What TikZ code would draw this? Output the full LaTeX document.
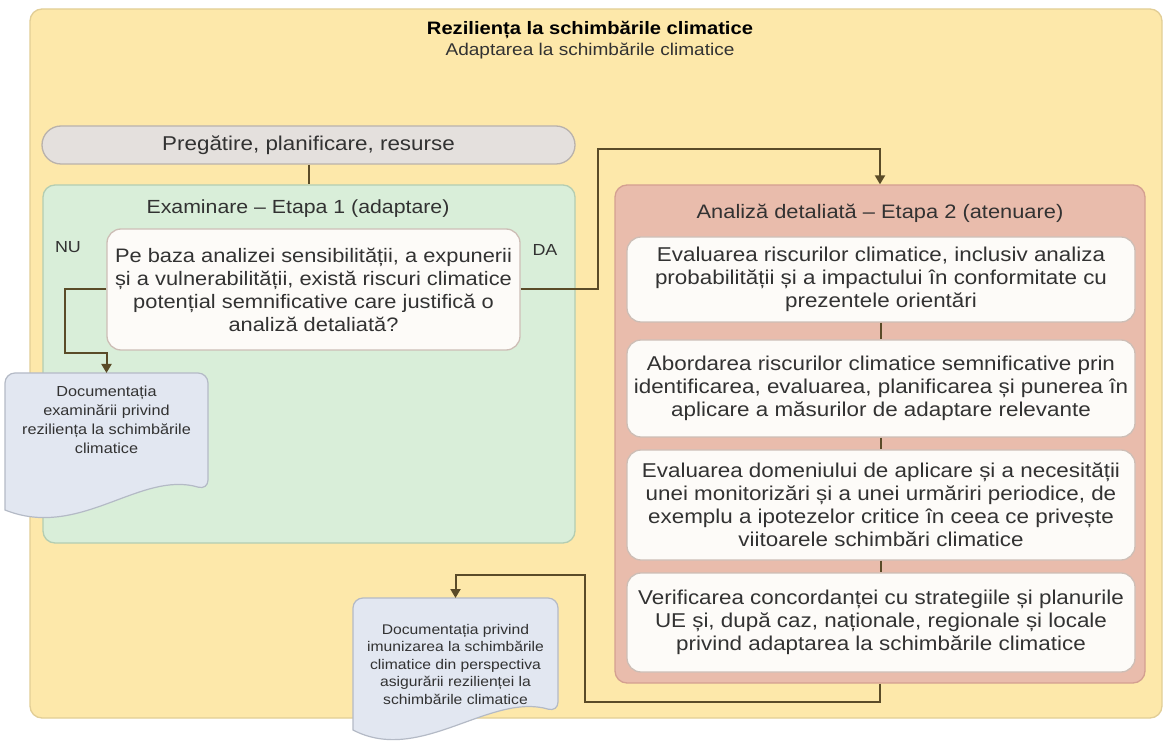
\documentclass[tikz,border=0pt]{standalone}
\usepackage{fontspec}
\setmainfont{Liberation Sans}[FakeStretch=1.12]
\usetikzlibrary{arrows.meta}
\definecolor{outerfill}{RGB}{253,232,170}
\definecolor{outerline}{RGB}{226,206,150}
\definecolor{grayfill}{RGB}{228,224,221}
\definecolor{grayline}{RGB}{185,178,172}
\definecolor{greenfill}{RGB}{217,238,217}
\definecolor{greenline}{RGB}{180,205,178}
\definecolor{pinkfill}{RGB}{233,188,172}
\definecolor{pinkline}{RGB}{212,160,145}
\definecolor{whitefill}{RGB}{253,251,248}
\definecolor{whiteline}{RGB}{205,190,182}
\definecolor{docfill}{RGB}{226,231,241}
\definecolor{docline}{RGB}{180,186,198}
\definecolor{connc}{RGB}{90,75,40}
\definecolor{txt}{RGB}{50,50,50}
\begin{document}
\begin{tikzpicture}[x=1pt,y=-1pt,
  panel/.style={draw, line width=1.3pt, rounded corners=12pt, inner sep=0pt},
  wbox/.style={panel, fill=whitefill, draw=whiteline, rounded corners=14pt, text=txt, align=center,
     font=\fontsize{20}{23}\selectfont},
  lbl/.style={text=txt, font=\fontsize{19.5}{22}\selectfont, inner sep=0pt},
  doctext/.style={text=txt, align=center, inner sep=0pt},
  docshape/.style={draw=docline, fill=docfill, line width=1.2pt},
  conn/.style={draw=connc, line width=2pt},
  arr/.style={conn, -{Triangle[width=10pt,length=9pt]}}]
\useasboundingbox (0,0) rectangle (1163,743);
\fill[white] (0,0) rectangle (1163,743);
% outer panel
\node[panel, fill=outerfill, draw=outerline, minimum width=1132pt, minimum height=709pt] (outer) at (596,363.5) {};
\node[inner sep=0pt, font=\fontsize{18}{20}\selectfont\bfseries] (title) at (590,30) {Reziliența la schimbările climatice};
\node[inner sep=0pt, text=txt, font=\fontsize{17}{20}\selectfont] (subtitle) at (590,51) {Adaptarea la schimbările climatice};
% preparation
\node[panel, fill=grayfill, draw=grayline, rounded corners=19pt, minimum width=533pt, minimum height=38pt, text=txt,
  font=\fontsize{20}{22}\selectfont] (prep) at (308.5,145) {Pregătire, planificare, resurse};
% stage 1
\node[panel, fill=greenfill, draw=greenline, minimum width=532pt, minimum height=358pt] (green) at (309,364) {};
\node[lbl, font=\fontsize{19}{22}\selectfont] (gtitle) at (298,209) {Examinare – Etapa 1 (adaptare)};
\node[wbox, minimum width=413pt, minimum height=121pt, font=\fontsize{19.5}{23}\selectfont] (q) at (313.5,289.5)
  {Pe baza analizei sensibilității, a expunerii\\ și a vulnerabilității, există riscuri climatice\\ potențial semnificative care justifică o\\ analiză detaliată?};
\node[lbl, font=\fontsize{16}{18}\selectfont] (nu) at (68,247) {NU};
\node[lbl, font=\fontsize{16}{18}\selectfont] (da) at (545,250) {DA};
% doc 1
\draw[docshape, rounded corners=10pt] (5,505) -- (5,373) -- (208,373) -- (208,490)
  [sharp corners] .. controls (140,470) and (80,540) .. (5,510) -- cycle;
\node[doctext, minimum width=203pt, minimum height=94pt, font=\fontsize{14.5}{19}\selectfont] (d1) at (106.5,420)
  {Documentația\\ examinării privind\\ reziliența la schimbările\\ climatice};
% stage 2
\node[panel, fill=pinkfill, draw=pinkline, minimum width=530pt, minimum height=498pt] (pink) at (880,434) {};
\node[lbl] (ptitle) at (880,213) {Analiză detaliată – Etapa 2 (atenuare)};
\node[wbox, minimum width=508pt, minimum height=85pt] (b1) at (881,279.5)
  {Evaluarea riscurilor climatice, inclusiv analiza\\ probabilității și a impactului în conformitate cu\\ prezentele orientări};
\node[wbox, minimum width=508pt, minimum height=97pt] (b2) at (881,388.5)
  {Abordarea riscurilor climatice semnificative prin\\ identificarea, evaluarea, planificarea și punerea în\\ aplicare a măsurilor de adaptare relevante};
\node[wbox, minimum width=508pt, minimum height=110pt] (b3) at (881,505)
  {Evaluarea domeniului de aplicare și a necesității\\ unei monitorizări și a unei urmăriri periodice, de\\ exemplu a ipotezelor critice în ceea ce privește\\ viitoarele schimbări climatice};
\node[wbox, minimum width=508pt, minimum height=99pt] (b4) at (881,622.5)
  {Verificarea concordanței cu strategiile și planurile\\ UE și, după caz, naționale, regionale și locale\\ privind adaptarea la schimbările climatice};
% doc 2
\draw[docshape, rounded corners=10pt] (353,730) -- (353,598) -- (558,598) -- (558,712)
  [sharp corners] .. controls (490,692) and (420,765) .. (353,730) -- cycle;
\node[doctext, minimum width=205pt, minimum height=132pt, font=\fontsize{14}{17.5}\selectfont] (d2) at (455.5,664)
  {Documentația privind\\ imunizarea la schimbările\\ climatice din perspectiva\\ asigurării rezilienței la\\ schimbările climatice};
% connectors
\draw[conn] (prep.south) -- (prep.south |- green.north);
\draw[conn] (b1.south) -- (b2.north);
\draw[conn] (b2.south) -- (b3.north);
\draw[conn] (b3.south) -- (b4.north);
\draw[arr] (q.west) -- (65,289.5) |- (106.5,353) -- (106.5,373);
\draw[arr] (q.east) -- (598,289.5) |- (880,149) -- (pink.north);
\draw[arr] (pink.south) -- (880,702) -| (585,575) -| (455.5,598);
\end{tikzpicture}
\end{document}
